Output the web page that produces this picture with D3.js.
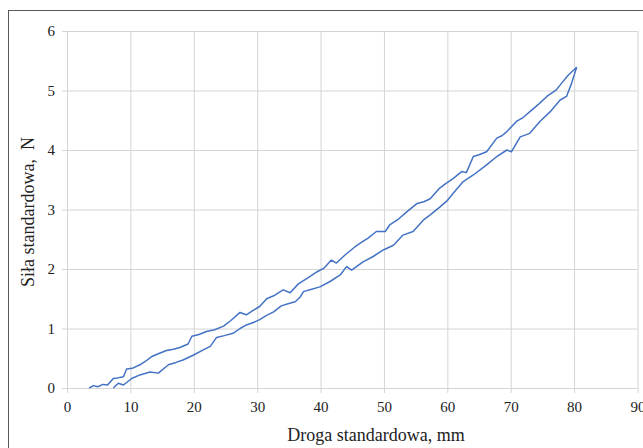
<!DOCTYPE html>
<html>
<head>
<meta charset="utf-8">
<script src="https://cdn.jsdelivr.net/npm/d3@7"></script>
<style>
  body { margin: 0; background: #fff; }
  svg text { font-family: "Liberation Serif", "Times New Roman", serif; fill: #222; }
</style>
</head>
<body>
<svg id="chart" width="643" height="448"></svg>
<script>
// tick values
let xTicks = [0, 10, 20, 30, 40, 50, 60, 70, 80, 90];
let yTicks = [0, 1, 2, 3, 4, 5, 6];

// upper branch of the loop
let xUpper = [3.5, 4.2, 4.8, 5.7, 6.4, 7.3, 8.0, 8.9, 9.4, 10.3, 11.5, 12.4, 13.4, 14.5, 15.7, 16.8, 17.8, 19.1, 19.7, 20.8,
  22.0, 23.3, 24.7, 25.8, 27.3, 28.3, 29.3, 30.4, 31.5, 32.6, 34.1, 35.2, 36.5, 38.0, 39.4, 40.6, 41.7, 42.5, 43.9, 45.4,
  46.5, 47.5, 48.8, 50.2, 50.9, 52.3, 53.6, 55.2, 56.3, 57.3, 58.8, 59.8, 60.9, 62.3, 63.0, 64.1, 65.0, 66.2, 67.8, 68.6,
  69.4, 70.9, 72.0, 73.3, 74.5, 75.7, 77.2, 78.0, 79.1, 80.4];
let yUpper = [0.00, 0.04, 0.02, 0.06, 0.05, 0.16, 0.17, 0.19, 0.32, 0.33, 0.39, 0.45, 0.53, 0.58, 0.63, 0.65, 0.68, 0.74, 0.87, 0.90,
  0.95, 0.98, 1.04, 1.13, 1.27, 1.23, 1.30, 1.37, 1.50, 1.55, 1.65, 1.60, 1.75, 1.85, 1.95, 2.02, 2.15, 2.10, 2.24, 2.37,
  2.45, 2.52, 2.63, 2.63, 2.74, 2.84, 2.96, 3.10, 3.13, 3.18, 3.36, 3.44, 3.52, 3.64, 3.62, 3.89, 3.92, 3.97, 4.20, 4.24,
  4.31, 4.48, 4.55, 4.67, 4.78, 4.90, 5.01, 5.12, 5.26, 5.39];

// lower branch of the loop
let xLower = [7.3, 8.1, 8.9, 10.2, 11.5, 13.1, 14.4, 16.0, 17.2, 18.3, 19.9, 21.5, 22.6, 23.6, 24.8, 26.2, 27.3, 28.3, 29.4, 30.4,
  31.5, 32.6, 33.8, 35.0, 36.0, 36.8, 37.3, 38.6, 39.9, 41.5, 43.1, 44.1, 44.9, 46.7, 48.3, 49.9, 51.5, 53.0, 54.6, 56.2,
  57.3, 58.8, 59.9, 60.9, 62.5, 64.1, 66.2, 67.8, 69.4, 70.1, 71.5, 73.0, 74.6, 76.2, 77.8, 78.8, 79.6, 80.4];
let yLower = [0.00, 0.08, 0.05, 0.16, 0.22, 0.27, 0.25, 0.39, 0.43, 0.47, 0.55, 0.64, 0.70, 0.85, 0.88, 0.92, 1.00, 1.06, 1.10, 1.15,
  1.22, 1.28, 1.38, 1.42, 1.45, 1.53, 1.62, 1.66, 1.70, 1.79, 1.90, 2.04, 1.98, 2.12, 2.21, 2.32, 2.40, 2.57, 2.63, 2.82,
  2.91, 3.04, 3.14, 3.27, 3.47, 3.58, 3.75, 3.89, 4.00, 3.97, 4.22, 4.28, 4.48, 4.64, 4.84, 4.90, 5.12, 5.39];

let svg = d3.select("#chart");

// outer frame, runs off the right and bottom edge
svg.append("rect")
  .attr("x", 8.5)
  .attr("y", 10.5)
  .attr("width", 700)
  .attr("height", 500)
  .attr("fill", "none")
  .attr("stroke", "#595959")
  .attr("stroke-width", 1);

let xScale = d3.scaleLinear().domain([0, 90]).range([67, 637.5]);
let yScale = d3.scaleLinear().domain([0, 6]).range([388, 31]);

let serif = '"Liberation Serif", "Times New Roman", serif';

// horizontal grid + y ticks
let yAxis = d3.axisLeft(yScale).tickValues(yTicks).tickSize(-(637.5 - 62)).tickPadding(8).tickFormat(d3.format("d"));
let gy = svg.append("g")
  .attr("transform", "translate(62,0)")
  .call(yAxis);
gy.select(".domain").remove();
gy.selectAll(".tick line").attr("stroke", "#d4d4d4");
gy.selectAll(".tick text")
  .attr("x", -7)
  .style("font-family", serif)
  .style("font-size", "15px")
  .style("fill", "#222");

// vertical grid + x ticks
let xAxis = d3.axisBottom(xScale).tickValues(xTicks).tickSize(-(393 - 31)).tickPadding(10).tickFormat(d3.format("d"));
let gx = svg.append("g")
  .attr("transform", "translate(0,393)")
  .call(xAxis);
gx.select(".domain").remove();
gx.selectAll(".tick line").attr("stroke", "#d4d4d4");
gx.selectAll(".tick text")
  .attr("y", 8)
  .style("font-family", serif)
  .style("font-size", "15px")
  .style("fill", "#222");

// the two branches
let line = d3.line()
  .x(d => xScale(d[0]))
  .y(d => yScale(d[1]));

let upper = xUpper.map((x, i) => [x, yUpper[i]]);
let lower = xLower.map((x, i) => [x, yLower[i]]);

[upper, lower].forEach(pts => {
  svg.append("path")
    .datum(pts)
    .attr("d", line)
    .attr("fill", "none")
    .attr("stroke", "#4472c4")
    .attr("stroke-width", 1.5)
    .attr("stroke-linejoin", "round");
});

// axis titles
svg.append("text")
  .attr("x", 376)
  .attr("y", 441)
  .attr("text-anchor", "middle")
  .attr("font-size", "18px")
  .text("Droga standardowa, mm");

svg.append("text")
  .attr("transform", "translate(34,212) rotate(-90)")
  .attr("text-anchor", "middle")
  .attr("font-size", "18px")
  .style("white-space", "pre")
  .text("Siła standardowa,  N");
</script>
</body>
</html>
